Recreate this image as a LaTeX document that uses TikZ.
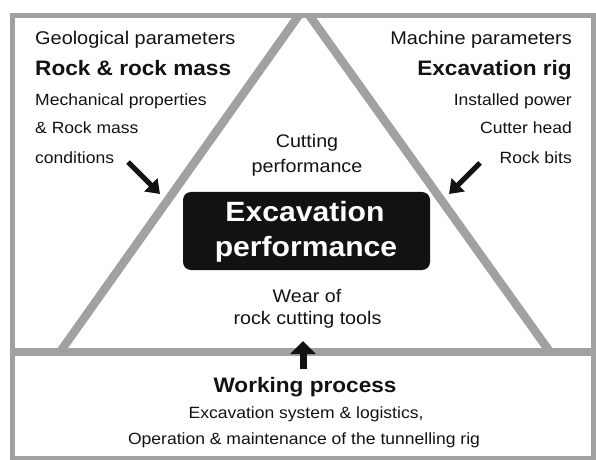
\documentclass[tikz,border=0pt]{standalone}
\usepackage{fontspec}
\setmainfont{Liberation Sans}[FakeStretch=1.08]
\usetikzlibrary{arrows.meta}
\definecolor{rim}{gray}{0.63}
\definecolor{ink}{gray}{0.07}
\tikzset{
  txt/.style={inner sep=0pt, text=ink},
  heading/.style={txt, font=\fontsize{18.5}{22}\selectfont},
  subject/.style={txt, font=\fontsize{21}{25}\selectfont\bfseries},
  detail/.style={txt, font=\fontsize{16.3}{20}\selectfont},
  inner/.style={txt, font=\fontsize{18.3}{22}\selectfont},
  core/.style={inner sep=0pt, text=white, font=\fontsize{28}{32}\selectfont\bfseries},
  band/.style={draw=rim, line width=8.5bp},
  pusharrow/.style={draw=ink, line width=5bp, -{Triangle[length=13bp, width=18bp]}},
  liftarrow/.style={draw=ink, line width=7bp, -{Triangle[length=13bp, width=25bp]}},
}
\begin{document}
\begin{tikzpicture}[x=1bp, y=-1bp]
  \useasboundingbox (0,0) rectangle (596,460);

  % triangle with its base bar, kept inside the frame
  \coordinate (apex) at (304,8);
  \coordinate (baseL) at (60,352);
  \coordinate (baseR) at (550,352);
  \coordinate (barL) at (12.5,352);
  \coordinate (barR) at (593,352);
  \begin{scope}
    \clip (12.5,16) rectangle (593,458);
    \draw[band, line join=miter] (baseL) -- (apex) -- (baseR);
  \end{scope}
  \draw[band, line width=8bp] (barL) -- (barR);

  % outer frame
  \draw[draw=rim, line width=5bp] (12.5,16) rectangle (593,458);

  % central block
  \node[fill=ink, rounded corners=8bp, minimum width=247bp, minimum height=78bp, inner sep=0pt] (perf) at (306.5,231) {};
  \node[core, anchor=base] (perf1) at (305,222) {Excavation};
  \node[core, anchor=base] (perf2) at (306,257) {performance};

  % geological side
  \node[heading, anchor=base west] (geo) at (35,45) {Geological parameters};
  \node[subject, anchor=base west] (rock) at (35,76) {Rock \& rock mass};
  \node[detail, anchor=base west] (mech) at (35,106) {Mechanical properties};
  \node[detail, anchor=base west] (mass) at (35,134) {\& Rock mass};
  \node[detail, anchor=base west] (cond) at (35,164) {conditions};

  % machine side
  \node[heading, anchor=base east] (mach) at (572,45) {Machine parameters};
  \node[subject, anchor=base east] (rig) at (572,76) {Excavation rig};
  \node[detail, anchor=base east] (power) at (572,106) {Installed power};
  \node[detail, anchor=base east] (head) at (572,134) {Cutter head};
  \node[detail, anchor=base east] (bits) at (572,164) {Rock bits};

  % inside the triangle
  \node[inner, anchor=base] (cut1) at (307,148) {Cutting};
  \node[inner, anchor=base] (cut2) at (307,173) {performance};
  \node[inner, anchor=base] (wear1) at (307,302) {Wear of};
  \node[inner, anchor=base] (wear2) at (307.5,324) {rock cutting tools};

  % working process
  \node[subject, anchor=base] (work) at (305,392) {Working process};
  \node[detail, anchor=base] (sys) at (306,418) {Excavation system \& logistics,};
  \node[detail, anchor=base] (oper) at (304,444) {Operation \& maintenance of the tunnelling rig};

  % influence arrows
  \coordinate (la0) at (128,162);
  \coordinate (la1) at (160,194);
  \coordinate (ra0) at (480,163);
  \coordinate (ra1) at (449,194);
  \coordinate (ba0) at (303,369);
  \coordinate (ba1) at (303,341);
  \draw[pusharrow] (la0) -- (la1);
  \draw[pusharrow] (ra0) -- (ra1);
  \draw[liftarrow] (ba0) -- (ba1);
\end{tikzpicture}
\end{document}
